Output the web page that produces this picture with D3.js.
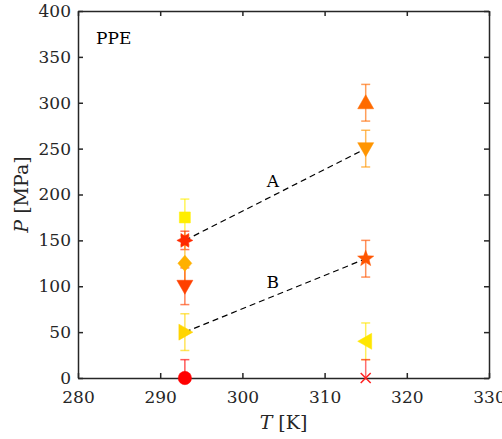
<!DOCTYPE html>
<html lang="en">
<head>
<meta charset="utf-8">
<script src="https://cdn.jsdelivr.net/npm/d3@7"></script>
<style>
  body { margin: 0; background: #fff; }
  .axis path, .axis line { stroke: #262626; stroke-width: 1.5px; }
</style>
</head>
<body>
<div id="chart"></div>
<script>
// data
var temps     = [293, 293, 293, 293, 293, 293, 315, 315, 315, 315, 315];
var pressures = [175, 150, 125, 100, 50, 0, 300, 250, 130, 40, 0];
var errors    = [20, 10, 20, 20, 20, 20, 20, 20, 20, 20, 20];
var markers   = ["square", "hexagram", "diamond", "down", "right", "circle",
                 "up", "down", "pentagram", "left", "x"];
var colors    = ["#ffee00", "#ff2a00", "#ffb000", "#ff4000", "#ffd500", "#ff0000",
                 "#ff6a00", "#ff9500", "#ff5500", "#ffe600", "#ff2020"];
var guides = [
  {name: "A", from: [293, 150], to: [315, 250], label: [303.7, 208]},
  {name: "B", from: [293, 50],  to: [315, 130], label: [303.7, 98]}
];
var xTicks = [280, 290, 300, 310, 320, 330];
var yTicks = [0, 50, 100, 150, 200, 250, 300, 350, 400];

var FONT = "'DejaVu Serif', serif";

var W = 502, H = 439;
var margin = {top: 11, right: 13, bottom: 61, left: 78};
var width = W - margin.left - margin.right,
    height = H - margin.top - margin.bottom;

var svg = d3.select("#chart").append("svg")
    .attr("width", W).attr("height", H)
  .append("g")
    .attr("transform", "translate(" + margin.left + "," + margin.top + ")");

var x = d3.scaleLinear().domain([280, 330]).range([0, width]);
var y = d3.scaleLinear().domain([0, 400]).range([height, 0]);

svg.append("clipPath").attr("id", "clip")
  .append("rect").attr("width", width).attr("height", height);

// marker shapes
function shapePath(kind) {
  var pts;
  switch (kind) {
    case "square": return "M-5.5,-5.5H5.5V5.5H-5.5Z";
    case "circle": return d3.symbol(d3.symbolCircle, 140)();
    case "diamond": pts = [[0, -8], [7, 0], [0, 8], [-7, 0]]; break;
    case "down": pts = [[-8, -6], [8, -6], [0, 8]]; break;
    case "up": pts = [[-8, 6], [8, 6], [0, -8]]; break;
    case "right": pts = [[-6, -8], [-6, 8], [8, 0]]; break;
    case "left": pts = [[6, -8], [6, 8], [-8, 0]]; break;
    case "x": return "M-5,-5L5,5M-5,5L5,-5";
    case "pentagram":
      pts = d3.range(10).map(function(i) {
        var r = i % 2 ? 3.6 : 8.5, a = i * Math.PI / 5;
        return [r * Math.sin(a), -r * Math.cos(a)];
      });
      break;
    case "hexagram":
      pts = d3.range(12).map(function(i) {
        var r = i % 2 ? 4.4 : 8, a = i * Math.PI / 6 + Math.PI / 6;
        return [r * Math.sin(a), -r * Math.cos(a)];
      });
      break;
  }
  return "M" + pts.map(function(p) { return p.join(","); }).join("L") + "Z";
}

var pts = temps.map(function(t, i) {
  return {t: t, p: pressures[i], e: errors[i], m: markers[i], c: colors[i]};
});

var plot = svg.append("g").attr("clip-path", "url(#clip)");

// dashed guide lines
plot.selectAll(".guide").data(guides).enter().append("line")
    .attr("x1", function(d) { return x(d.from[0]); })
    .attr("y1", function(d) { return y(d.from[1]); })
    .attr("x2", function(d) { return x(d.to[0]); })
    .attr("y2", function(d) { return y(d.to[1]); })
    .attr("stroke", "#000").attr("stroke-width", 1.2)
    .attr("stroke-dasharray", "6,4");

svg.selectAll(".glabel").data(guides).enter().append("text")
    .attr("x", function(d) { return x(d.label[0]); })
    .attr("y", function(d) { return y(d.label[1]); })
    .attr("text-anchor", "middle")
    .style("font-family", FONT).style("font-size", "17px").style("fill", "#000")
    .text(function(d) { return d.name; });

// error bars
var eb = plot.selectAll(".eb").data(pts).enter().append("g")
    .attr("stroke", function(d) { return d.c; })
    .attr("stroke-opacity", 0.65)
    .attr("stroke-width", 1.5);
eb.append("line")
    .attr("x1", function(d) { return x(d.t); }).attr("x2", function(d) { return x(d.t); })
    .attr("y1", function(d) { return y(d.p - d.e); })
    .attr("y2", function(d) { return y(d.p + d.e); });
eb.append("line")
    .attr("x1", function(d) { return x(d.t) - 4.5; }).attr("x2", function(d) { return x(d.t) + 4.5; })
    .attr("y1", function(d) { return y(d.p + d.e); }).attr("y2", function(d) { return y(d.p + d.e); });
eb.append("line")
    .attr("x1", function(d) { return x(d.t) - 4.5; }).attr("x2", function(d) { return x(d.t) + 4.5; })
    .attr("y1", function(d) { return y(d.p - d.e); }).attr("y2", function(d) { return y(d.p - d.e); });

// axes (ticks inside, box on)
svg.append("g").attr("class", "axis")
    .attr("transform", "translate(0," + height + ")")
    .call(d3.axisBottom(x).tickValues(xTicks).tickSizeInner(-5).tickSizeOuter(0).tickPadding(13));
svg.append("g").attr("class", "axis")
    .call(d3.axisTop(x).tickValues(xTicks).tickSizeInner(-5).tickSizeOuter(0).tickFormat(""));
svg.append("g").attr("class", "axis")
    .call(d3.axisLeft(y).tickValues(yTicks).tickSizeInner(-5).tickSizeOuter(0).tickPadding(7));
svg.append("g").attr("class", "axis")
    .attr("transform", "translate(" + width + ",0)")
    .call(d3.axisRight(y).tickValues(yTicks).tickSizeInner(-5).tickSizeOuter(0).tickFormat(""));
svg.selectAll(".axis text")
    .style("font-family", FONT)
    .style("font-size", "17px").style("fill", "#262626");

// markers (drawn over the axis line, like the original)
svg.selectAll(".mk").data(pts).enter().append("path")
    .attr("transform", function(d) { return "translate(" + x(d.t) + "," + y(d.p) + ")"; })
    .attr("d", function(d) { return shapePath(d.m); })
    .attr("fill", function(d) { return d.m === "x" ? "none" : d.c; })
    .attr("stroke", function(d) { return d.c; })
    .attr("stroke-width", function(d) { return d.m === "x" ? 1.5 : 0.5; });

// labels
svg.append("text")
    .attr("x", 18).attr("y", 33)
    .style("font-family", FONT).style("font-size", "17px").style("fill", "#000")
    .text("PPE");

var xl = svg.append("text")
    .attr("x", width / 2).attr("y", height + 51)
    .attr("text-anchor", "middle")
    .style("font-family", FONT).style("font-size", "19px").style("fill", "#262626");
xl.append("tspan").style("font-style", "italic").text("T");
xl.append("tspan").text(" [K]");

var yl = svg.append("text")
    .attr("transform", "translate(-50," + (height / 2) + ") rotate(-90)")
    .attr("text-anchor", "middle")
    .style("font-family", FONT).style("font-size", "19px").style("fill", "#262626");
yl.append("tspan").style("font-style", "italic").text("P");
yl.append("tspan").text(" [MPa]");
</script>
</body>
</html>
